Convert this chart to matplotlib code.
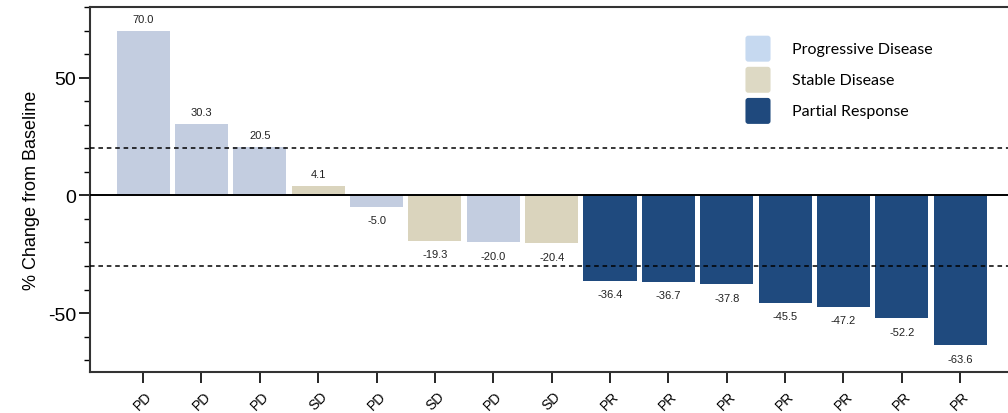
import matplotlib
matplotlib.use("Agg")
import matplotlib.pyplot as plt
from matplotlib.patches import FancyBboxPatch, Patch
from matplotlib.legend_handler import HandlerPatch
from matplotlib.ticker import MultipleLocator

# Best percentage change from baseline per patient, with response category
responses = ["PD", "PD", "PD", "SD", "PD", "SD", "PD", "SD",
             "PR", "PR", "PR", "PR", "PR", "PR", "PR"]
changes = [70.0, 30.3, 20.5, 4.1, -5.0, -19.3, -20.0, -20.4,
           -36.4, -36.7, -37.8, -45.5, -47.2, -52.2, -63.6]
category_names = {"PD": "Progressive Disease", "SD": "Stable Disease", "PR": "Partial Response"}
bar_colors = {"PD": "#c3cde0", "SD": "#dad4bd", "PR": "#1f4a7e"}
legend_colors = {"PD": "#c6d9f0", "SD": "#ddd9c4", "PR": "#1f497d"}
thresholds = [20, -30]

plt.rcParams["font.family"] = ["Liberation Sans", "DejaVu Sans"]
plt.rcParams["axes.unicode_minus"] = False

fig = plt.figure(figsize=(10.08, 4.14), dpi=100)
ax = fig.add_axes([0.0893, 0.099, 0.9107, 0.8817])

x = list(range(len(changes)))
ax.bar(x, changes, width=0.91, color=[bar_colors[r] for r in responses], zorder=2)

for xi, v in zip(x, changes):
    if v >= 0:
        ax.annotate(f"{v:.1f}", (xi, v), xytext=(0, 5), textcoords="offset points",
                    ha="center", va="bottom", fontsize=8, color="#222222")
    else:
        ax.annotate(f"{v:.1f}", (xi, v), xytext=(0, -6), textcoords="offset points",
                    ha="center", va="top", fontsize=8, color="#222222")

ax.axhline(0, color="black", lw=1.4, zorder=3)
for t in thresholds:
    ax.axhline(t, color="black", lw=1.1, ls=(0, (3, 2.5)), zorder=3)

ax.set_xlim(-0.91, 14.82)
ax.set_ylim(-75, 80)

ax.set_xticks(x)
ax.set_xticklabels(responses, rotation=45, fontsize=10)
ax.yaxis.set_major_locator(MultipleLocator(50))
ax.yaxis.set_minor_locator(MultipleLocator(10))
ax.tick_params(axis="y", which="major", length=8, width=1.2, labelsize=14, pad=2)
ax.tick_params(axis="y", which="minor", length=4, width=1.0)
ax.tick_params(axis="x", which="major", length=8, width=1.2, pad=4)

ax.set_ylabel("% Change from Baseline", fontsize=13, labelpad=6)

for side in ["left", "bottom", "top"]:
    ax.spines[side].set_linewidth(1.5)
    ax.spines[side].set_color("#333333")
ax.spines["right"].set_visible(False)


class RoundedHandler(HandlerPatch):
    def create_artists(self, legend, orig_handle, xdescent, ydescent,
                       width, height, fontsize, trans):
        size = 18.7
        cy = -ydescent + height / 2 - 1.0
        p = FancyBboxPatch((-xdescent, cy - size / 2), width, size,
                           boxstyle="round,pad=0,rounding_size=2",
                           facecolor=orig_handle.get_facecolor(), edgecolor="none",
                           transform=trans)
        return [p]


handles = [Patch(facecolor=legend_colors[k], label=category_names[k]) for k in ["PD", "SD", "PR"]]
ax.legend(handles=handles, loc="upper left", bbox_to_anchor=(0.714, 0.912),
          frameon=False, borderpad=0, borderaxespad=0,
          handlelength=1.57, handleheight=1.2, handletextpad=1.35, labelspacing=0.91,
          prop={"family": ["Lato", "DejaVu Sans"], "size": 11.5},
          handler_map={Patch: RoundedHandler()})

fig.savefig("out.png", dpi=100)
